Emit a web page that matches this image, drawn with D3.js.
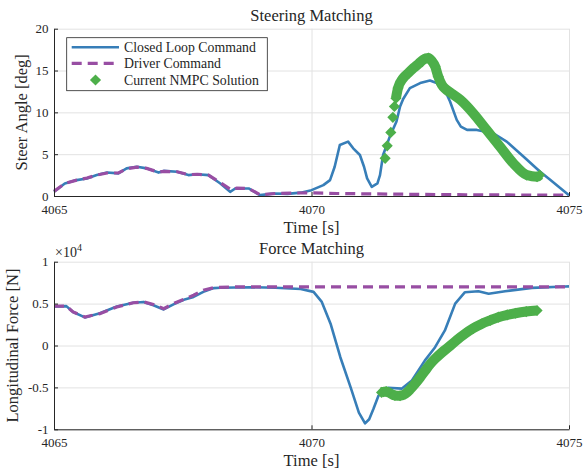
<!DOCTYPE html>
<html>
<head>
<meta charset="utf-8">
<script src="https://cdn.jsdelivr.net/npm/d3@7"></script>
<style>
body { margin: 0; background: #fff; }
text { font-family: "Liberation Serif", serif; fill: #262626; }
</style>
</head>
<body>
<svg id="viz" width="584" height="470"></svg>
<script>
// ---- data: [time s, value] ----
var timeTicks = [4065, 4070, 4075];
var steerTicks = [0, 5, 10, 15, 20];
var forceTicks = [-1, -0.5, 0, 0.5, 1];

// steer angle [deg]
var steerLoop = [[4065,0.5],[4065.21,1.5],[4065.44,1.9],[4065.64,2.1],[4065.83,2.5],[4066.03,2.8],[4066.25,2.7],
  [4066.41,3.3],[4066.61,3.5],[4066.8,3.3],[4067.03,2.8],[4067.13,3.0],[4067.39,2.9],[4067.61,2.5],[4067.78,2.6],
  [4068.0,2.5],[4068.23,1.5],[4068.42,0.5],[4068.52,0.9],[4068.78,0.9],[4069.0,0.1],[4069.27,0.3],[4069.53,0.25],
  [4069.79,0.4],[4070.0,0.7],[4070.23,1.3],[4070.36,1.9],[4070.45,3.5],[4070.55,6.1],[4070.71,6.5],[4070.81,5.7],
  [4070.94,4.9],[4071.02,3.5],[4071.08,2.1],[4071.17,1.1],[4071.28,1.5],[4071.33,2.5],[4071.39,4.9],[4071.52,7.1],
  [4071.65,8.9],[4071.72,10.7],[4071.78,11.6],[4071.91,12.9],[4072.11,13.5],[4072.3,13.8],[4072.43,13.5],
  [4072.63,12.1],[4072.69,11.3],[4072.82,9.1],[4072.9,8.3],[4073.02,7.9],[4073.21,7.9],[4073.53,7.5],
  [4073.79,6.5],[4074.12,4.7],[4074.44,2.9],[4074.64,1.9],[4075,0.1]];
var steerDriver = [[4065,0.55],[4065.21,1.5],[4065.44,1.9],[4065.64,2.15],[4065.83,2.5],[4066.03,2.75],[4066.25,2.75],
  [4066.41,3.25],[4066.61,3.45],[4066.8,3.3],[4067.03,2.85],[4067.13,2.95],[4067.39,2.9],[4067.61,2.55],[4067.78,2.6],
  [4068.0,2.5],[4068.23,1.6],[4068.45,0.7],[4068.55,0.95],[4068.78,0.9],[4069.0,0.15],[4069.3,0.3],[4069.6,0.35],
  [4070.0,0.38],[4070.5,0.3],[4071,0.26],[4072,0.2],[4073,0.15],[4074,0.12],[4075,0.1]];
var steerNmpc = [[4071.43,4.5],[4071.47,6.0],[4071.54,7.6],[4071.58,9.4],[4071.61,10.7],[4071.64,11.7],[4071.68,12.9],
  [4071.78,14.1],[4071.88,14.7],[4071.98,15.3],[4072.08,15.8],[4072.17,16.3],[4072.27,16.5],[4072.34,16.1],
  [4072.40,15.5],[4072.46,14.3],[4072.53,13.3],[4072.6,12.8],[4072.69,12.4],[4072.89,11.5],[4073.14,9.9],
  [4073.4,7.9],[4073.66,5.9],[4073.92,3.9],[4074.18,2.5],[4074.38,2.3],[4074.43,2.5]];
var steerNmpcDenseFrom = 5;

// longitudinal force [x10^4 N]
var forceLoop = [[4065,0.465],[4065.24,0.47],[4065.37,0.40],[4065.6,0.335],[4065.89,0.385],[4066.22,0.465],
  [4066.54,0.51],[4066.74,0.52],[4066.93,0.48],[4067.13,0.43],[4067.32,0.49],[4067.52,0.545],[4067.71,0.58],
  [4067.9,0.64],[4068.1,0.685],[4068.23,0.69],[4068.81,0.695],[4069.3,0.69],[4069.79,0.675],[4070.04,0.64],
  [4070.2,0.52],[4070.37,0.26],[4070.56,-0.14],[4070.76,-0.50],[4070.92,-0.80],[4071.04,-0.93],[4071.12,-0.88],
  [4071.2,-0.76],[4071.3,-0.60],[4071.49,-0.505],[4071.75,-0.515],[4071.95,-0.418],[4072.2,-0.18],[4072.4,-0.02],
  [4072.59,0.18],[4072.79,0.50],[4072.98,0.636],[4073.24,0.648],[4073.44,0.617],[4073.76,0.648],[4074.28,0.688],
  [4074.93,0.704],[4075,0.705]];
var forceDriver = [[4065,0.47],[4065.24,0.47],[4065.37,0.40],[4065.6,0.34],[4065.89,0.38],[4066.22,0.46],
  [4066.54,0.51],[4066.74,0.52],[4066.93,0.49],[4067.13,0.44],[4067.32,0.50],[4067.52,0.55],[4067.71,0.60],
  [4067.9,0.66],[4068.1,0.69],[4068.5,0.70],[4075,0.70]];
var forceNmpc = [[4071.36,-0.56],[4071.45,-0.55],[4071.62,-0.597],[4071.72,-0.60],[4071.82,-0.577],[4071.92,-0.52],
  [4072.01,-0.457],[4072.11,-0.38],[4072.21,-0.298],[4072.3,-0.225],[4072.4,-0.159],[4072.53,-0.085],[4072.66,-0.02],
  [4072.82,0.065],[4072.98,0.14],[4073.14,0.205],[4073.31,0.26],[4073.47,0.30],[4073.63,0.338],[4073.8,0.365],
  [4073.96,0.385],[4074.17,0.405],[4074.38,0.418]];

var legendLabels = ["Closed Loop Command", "Driver Command", "Current NMPC Solution"];

var blue = "#377eb8", purple = "#984ea3", green = "#4daf4a", ink = "#262626";

var svg = d3.select("#viz");
var xLeft = 54, xRight = 569;
var diamond = d3.symbol().type(d3.symbolSquare).size(62);

function drawPanel(p) {
  var x = d3.scaleLinear().domain([4065, 4075]).range([xLeft, xRight]);
  var y = d3.scaleLinear().domain(p.yDomain).range([p.bottom, p.top]);
  var g = svg.append("g");

  // grid
  g.append("g").attr("transform", "translate(0," + p.bottom + ")")
    .call(d3.axisBottom(x).tickValues(timeTicks).tickSize(-(p.bottom - p.top)).tickFormat(""))
    .call(a => a.select(".domain").remove())
    .selectAll("line").attr("stroke", "#e2e2e2");
  g.append("g").attr("transform", "translate(" + xLeft + ",0)")
    .call(d3.axisLeft(y).tickValues(p.yTicks).tickSize(-(xRight - xLeft)).tickFormat(""))
    .call(a => a.select(".domain").remove())
    .selectAll("line").attr("stroke", "#e2e2e2");

  var line = d3.line().x(d => x(d[0])).y(d => y(d[1]));

  g.append("path").datum(p.loop).attr("d", line)
    .attr("fill", "none").attr("stroke", blue).attr("stroke-width", 2.6).attr("stroke-linejoin", "round");
  g.append("path").datum(p.driver).attr("d", line)
    .attr("fill", "none").attr("stroke", purple).attr("stroke-width", 3.2).attr("stroke-dasharray", "10,6");
  g.append("path").datum(p.nmpc.slice(p.denseFrom)).attr("d", line.curve(d3.curveMonotoneX))
    .attr("fill", "none").attr("stroke", green).attr("stroke-width", 10).attr("stroke-linejoin", "round");
  g.selectAll(".nmpc").data(p.nmpc).enter().append("path")
    .attr("d", diamond)
    .attr("transform", d => "translate(" + x(d[0]) + "," + y(d[1]) + ") rotate(45)")
    .attr("fill", green);

  // axes
  g.append("g").attr("transform", "translate(0," + p.bottom + ")")
    .call(d3.axisBottom(x).tickValues(timeTicks).tickSizeInner(-4).tickSizeOuter(0).tickPadding(8.5).tickFormat(d3.format("d")))
    .attr("font-family", null).attr("font-size", 13).attr("color", ink);
  g.append("g").attr("transform", "translate(" + xLeft + ",0)")
    .call(d3.axisLeft(y).tickValues(p.yTicks).tickSizeInner(-4).tickSizeOuter(0).tickPadding(5.5).tickFormat(d => String(d)))
    .attr("font-family", null).attr("font-size", 13).attr("color", ink);

  svg.append("text").attr("x", (xLeft + xRight) / 2).attr("y", p.top - 8)
    .attr("text-anchor", "middle").attr("font-size", 16.5).text(p.title);
  svg.append("text").attr("x", (xLeft + xRight) / 2).attr("y", p.bottom + 36.5)
    .attr("text-anchor", "middle").attr("font-size", 16.5).text("Time [s]");
  svg.append("text").attr("transform", "translate(" + p.labelX + "," + (p.top + p.bottom) / 2 + ") rotate(-90)")
    .attr("text-anchor", "middle").attr("font-size", 16.5).text(p.yLabel);
}

drawPanel({ top: 28.7, bottom: 196, yDomain: [0, 20], yTicks: steerTicks, loop: steerLoop, driver: steerDriver,
  nmpc: steerNmpc, denseFrom: steerNmpcDenseFrom, title: "Steering Matching", yLabel: "Steer Angle [deg]", labelX: 27 });
drawPanel({ top: 261.7, bottom: 429.3, yDomain: [-1, 1], yTicks: forceTicks, loop: forceLoop, driver: forceDriver,
  nmpc: forceNmpc, denseFrom: 0, title: "Force Matching", yLabel: "Longitudinal Force [N]", labelX: 17.5 });

// exponent
var ex = svg.append("text").attr("x", 55).attr("y", 256.5).attr("font-size", 14).text("\u00d710");
ex.append("tspan").attr("dy", -5.5).attr("font-size", 10).text("4");

// legend
var lg = svg.append("g");
lg.append("rect").attr("x", 66.7).attr("y", 37.7).attr("width", 200.6).attr("height", 53)
  .attr("fill", "#fff").attr("stroke", ink).attr("stroke-width", 0.8);
var rows = [47.3, 63.3, 80];
lg.append("line").attr("x1", 71.7).attr("x2", 119).attr("y1", rows[0]).attr("y2", rows[0])
  .attr("stroke", blue).attr("stroke-width", 2.6);
lg.append("line").attr("x1", 71.7).attr("x2", 119).attr("y1", rows[1]).attr("y2", rows[1])
  .attr("stroke", purple).attr("stroke-width", 3.2).attr("stroke-dasharray", "10,6");
lg.append("path").attr("d", diamond).attr("transform", "translate(95.5," + rows[2] + ") rotate(45)").attr("fill", green);
lg.selectAll(".lt").data(legendLabels).enter().append("text")
  .attr("x", 124).attr("y", (d, i) => rows[i]).attr("dy", "0.33em").attr("font-size", 13.8).text(d => d);
</script>
</body>
</html>
